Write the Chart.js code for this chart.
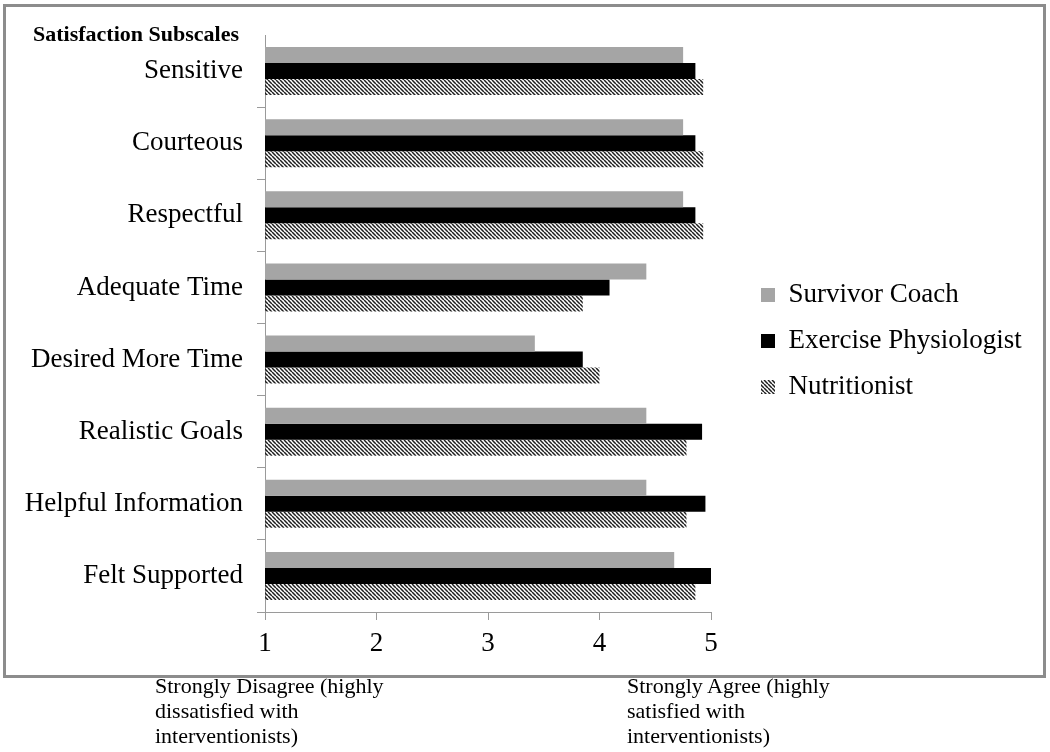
<!DOCTYPE html>
<html>
<head>
<meta charset="utf-8">
<script src="https://cdn.jsdelivr.net/npm/chart.js@4.4.1/dist/chart.umd.min.js"></script>
<style>
html,body{margin:0;padding:0;background:#fff;}
body{width:1050px;height:752px;position:relative;overflow:hidden;font-family:"Liberation Serif","Times New Roman",serif;color:#000;}
#frame{position:absolute;left:3px;top:4px;width:1043px;height:674px;border:3px solid #8c8c8c;box-sizing:border-box;}
#wrap{position:absolute;left:0;top:0;width:1050px;height:680px;}
#title{position:absolute;left:33px;top:23px;font-weight:bold;font-size:22px;line-height:22px;white-space:nowrap;}
.note{position:absolute;top:673px;font-size:22px;line-height:25px;white-space:nowrap;}
</style>
</head>
<body>
<div id="frame"></div>
<div id="wrap"><canvas id="c" width="1050" height="680" style="width:1050px;height:680px"></canvas></div>
<div id="title">Satisfaction Subscales</div>
<div class="note" style="left:155px">Strongly Disagree (highly<br>dissatisfied with<br>interventionists)</div>
<div class="note" style="left:627px">Strongly Agree (highly<br>satisfied with<br>interventionists)</div>
<script>
// ---- data ----
const categories = ['Sensitive', 'Courteous', 'Respectful', 'Adequate Time', 'Desired More Time', 'Realistic Goals', 'Helpful Information', 'Felt Supported'];
const seriesNames = ['Survivor Coach', 'Exercise Physiologist', 'Nutritionist'];
const survivorCoach = [4.75, 4.75, 4.75, 4.42, 3.42, 4.42, 4.42, 4.67];
const exercisePhysiologist = [4.86, 4.86, 4.86, 4.09, 3.85, 4.92, 4.95, 5.00];
const nutritionist = [4.93, 4.93, 4.93, 3.85, 4.00, 4.78, 4.78, 4.86];
const xTicks = [1, 2, 3, 4, 5];

// ---- styling ----
const SERIF = '"Liberation Serif", "Times New Roman", serif';
const AXIS_GRAY = '#9a9a9a';

function makeHatch() {
  const s = 4;
  const pc = document.createElement('canvas');
  pc.width = s; pc.height = s;
  const p = pc.getContext('2d');
  p.strokeStyle = '#1e1e1e';
  p.lineWidth = 1.5;
  p.beginPath();
  for (let k = -1; k <= 1; k++) {
    p.moveTo(k * s, 0);
    p.lineTo(k * s + s, s);
  }
  p.stroke();
  return document.getElementById('c').getContext('2d').createPattern(pc, 'repeat');
}
const hatch = makeHatch();

const LEGEND_PAD = 19;
const LEGEND_BOX_X = 761;
const PLOT_RIGHT = 711;

const chart = new Chart(document.getElementById('c'), {
  type: 'bar',
  data: {
    labels: categories,
    datasets: [
      { label: seriesNames[0], data: survivorCoach, backgroundColor: '#a5a5a5', borderWidth: 0, xAxisID: 'x', yAxisID: 'y' },
      { label: seriesNames[1], data: exercisePhysiologist, backgroundColor: '#000000', borderWidth: 0, xAxisID: 'x', yAxisID: 'y' },
      { label: seriesNames[2], data: nutritionist, backgroundColor: hatch, borderWidth: 0, xAxisID: 'x', yAxisID: 'y' }
    ]
  },
  options: {
    indexAxis: 'y',
    responsive: false,
    maintainAspectRatio: false,
    animation: false,
    devicePixelRatio: 1,
    layout: { padding: { left: 0, top: 18, right: 18, bottom: 16 } },
    datasets: { bar: { barPercentage: 1.0, categoryPercentage: 0.667 } },
    plugins: {
      title: { display: false },
      tooltip: { enabled: false },
      legend: {
        position: 'right',
        align: 'center',
        maxWidth: 600,
        labels: {
          boxWidth: 14,
          boxHeight: 14,
          padding: LEGEND_PAD,
          color: '#000',
          font: { family: SERIF, size: 27 }
        }
      }
    },
    scales: {
      x: {
        type: 'linear',
        position: 'bottom',
        min: 1,
        max: 5,
        afterBuildTicks: (s) => { s.ticks = xTicks.map(v => ({ value: v })); },
        afterFit: (s) => { s.height = 52; },
        ticks: { color: '#000', padding: 8, font: { family: SERIF, size: 27 } },
        grid: { drawOnChartArea: false, drawTicks: true, tickLength: 8, color: AXIS_GRAY, lineWidth: 1 },
        border: { display: true, color: AXIS_GRAY, width: 1 }
      },
      gapTop: {
        type: 'category',
        axis: 'x',
        position: 'top',
        display: true,
        afterFit: (s) => { s.height = 17; },
        ticks: { display: false },
        grid: { display: false, drawTicks: false },
        border: { display: false }
      },
      y: {
        type: 'category',
        position: 'left',
        afterFit: (s) => { s.width = 265; },
        ticks: { color: '#000', padding: 14, font: { family: SERIF, size: 27 } },
        grid: {
          offset: true, drawOnChartArea: false, drawTicks: true, tickLength: 8, lineWidth: 1,
          color: (ctx) => (ctx.index === 0 ? 'rgba(0,0,0,0)' : AXIS_GRAY)
        },
        border: { display: true, color: AXIS_GRAY, width: 1 }
      },
      gap: {
        type: 'category',
        axis: 'y',
        position: 'right',
        display: true,
        afterFit: (s) => { s.width = LEGEND_BOX_X - LEGEND_PAD - PLOT_RIGHT; },
        ticks: { display: false },
        grid: { display: false, drawTicks: false },
        border: { display: false }
      }
    }
  }
});

// place legend so its first box sits at LEGEND_BOX_X
const W = chart.legend.width;
chart.options.layout.padding.right = Math.max(0, 1050 - W - (LEGEND_BOX_X - LEGEND_PAD));
chart.update();
</script>
</body>
</html>
